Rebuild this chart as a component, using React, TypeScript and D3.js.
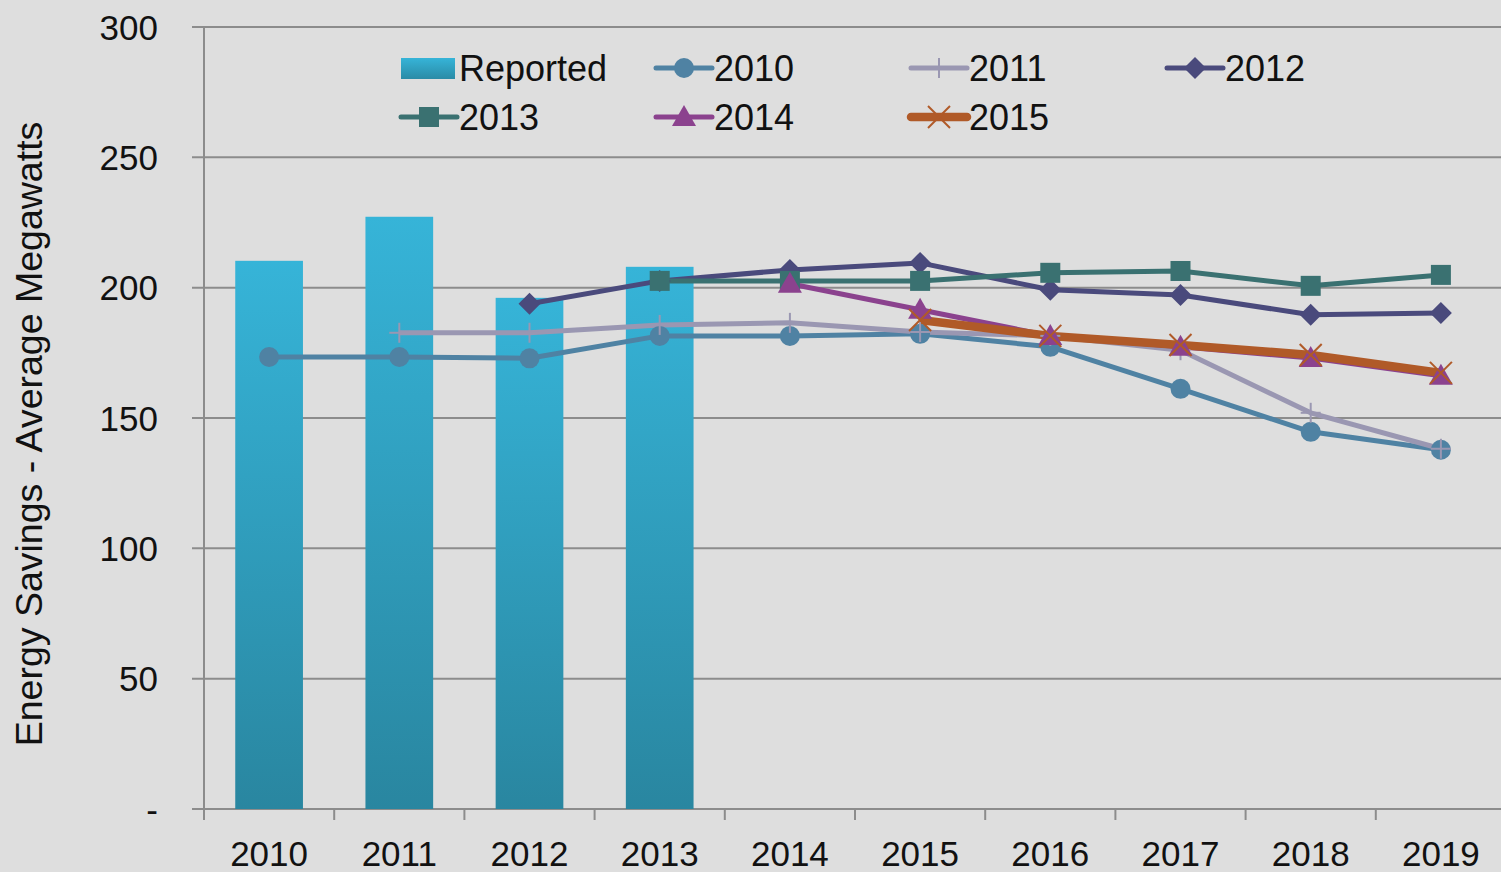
import React from "react";
import * as d3 from "d3";

const years = ["2010", "2011", "2012", "2013", "2014", "2015", "2016", "2017", "2018", "2019"];
const reported = [210.3, 227.2, 196.1, 208.0];
const s2010 = [173.4, 173.4, 172.9, 181.5, 181.5, 182.3, 177.3, 161.2, 144.7, 137.8];
const s2011 = [null, 182.7, 182.7, 185.7, 186.5, 183.0, 181.5, 176.0, 152.0, 138.2];
const s2012 = [null, null, 193.8, 202.6, 206.8, 209.5, 199.2, 197.2, 189.6, 190.3];
const s2013 = [null, null, null, 202.6, 202.6, 202.6, 205.7, 206.4, 200.7, 204.9];
const s2014 = [null, null, null, null, 201.5, 191.5, 181.5, 177.3, 173.0, 166.2];
const s2015 = [null, null, null, null, null, 187.6, 181.5, 178.0, 174.2, 167.3];
const yTicks = [0, 50, 100, 150, 200, 250, 300];

type Series = { name: string; values: (number | null)[]; color: string; marker: string; width: number };
const series: Series[] = [
  { name: "2010", values: s2010, color: "#4f82a3", marker: "circle", width: 5 },
  { name: "2011", values: s2011, color: "#9a97b2", marker: "plus", width: 5 },
  { name: "2012", values: s2012, color: "#4a4a7c", marker: "diamond", width: 5 },
  { name: "2013", values: s2013, color: "#3a7171", marker: "square", width: 5 },
  { name: "2014", values: s2014, color: "#8b428e", marker: "triangle", width: 5 },
  { name: "2015", values: s2015, color: "#b05a28", marker: "x", width: 8.5 },
];

const W = 1501, H = 872;
const left = 204, right = 1506, top = 27, bottom = 809;
const FONT = "'Liberation Sans', Arial, sans-serif";

function Marker({ type, x, y, color }: { type: string; x: number; y: number; color: string }) {
  switch (type) {
    case "circle":
      return <circle cx={x} cy={y} r={10} fill={color} />;
    case "plus":
      return (
        <g stroke={color} strokeWidth={2}>
          <line x1={x - 10} x2={x + 10} y1={y} y2={y} />
          <line x1={x} x2={x} y1={y - 10} y2={y + 10} />
        </g>
      );
    case "diamond":
      return <path d={`M${x},${y - 11}L${x + 11},${y}L${x},${y + 11}L${x - 11},${y}Z`} fill={color} />;
    case "square":
      return <rect x={x - 10} y={y - 10} width={20} height={20} fill={color} />;
    case "triangle":
      return <path d={`M${x},${y - 12}L${x + 12},${y + 9}L${x - 12},${y + 9}Z`} fill={color} />;
    case "x":
      return (
        <g stroke={color} strokeWidth={2}>
          <line x1={x - 11} x2={x + 11} y1={y - 11} y2={y + 11} />
          <line x1={x - 11} x2={x + 11} y1={y + 11} y2={y - 11} />
        </g>
      );
  }
  return null;
}

export default function App() {
  const x = d3.scaleBand<string>().domain(years).range([left, right]).paddingInner(0.48).paddingOuter(0.24);
  const xc = (i: number) => (x(years[i]) as number) + x.bandwidth() / 2;
  const step = x.step();
  const y = d3.scaleLinear().domain([0, 300]).range([bottom, top]);
  const line = d3
    .line<number | null>()
    .defined((d) => d != null)
    .x((_, i) => xc(i))
    .y((d) => y(d as number));

  const legendItems = [
    { name: "Reported", lx: 401, ly: 68, type: "bar" },
    { name: "2010", lx: 656, ly: 68, s: series[0] },
    { name: "2011", lx: 911, ly: 68, s: series[1] },
    { name: "2012", lx: 1167, ly: 68, s: series[2] },
    { name: "2013", lx: 401, ly: 117, s: series[3] },
    { name: "2014", lx: 656, ly: 117, s: series[4] },
    { name: "2015", lx: 911, ly: 117, s: series[5] },
  ];

  return (
    <svg width={W} height={H} style={{ position: "absolute", left: 0, top: 0, background: "#dedede" }} fontFamily={FONT}>
      <defs>
        <linearGradient id="barGrad" x1="0" y1="0" x2="0" y2="1">
          <stop offset="0%" stopColor="#36b4d8" />
          <stop offset="100%" stopColor="#2986a0" />
        </linearGradient>
        <linearGradient id="legGrad" x1="0" y1="0" x2="0" y2="1">
          <stop offset="0%" stopColor="#36b4d8" />
          <stop offset="100%" stopColor="#2a8ba6" />
        </linearGradient>
      </defs>
      <rect x={0} y={0} width={W} height={H} fill="#dedede" />
      {yTicks.map((t) => (
        <line key={t} x1={left - 12} x2={right} y1={y(t)} y2={y(t)} stroke="#8c8c8c" strokeWidth={2} />
      ))}
      {yTicks.map((t) => (
        <text key={t} x={158} y={y(t)} dy="0.36em" textAnchor="end" fontSize={35} fill="#111">
          {t === 0 ? "-" : t}
        </text>
      ))}
      {reported.map((v, i) => (
        <rect key={i} x={x(years[i])} y={y(v)} width={x.bandwidth()} height={bottom - y(v)} fill="url(#barGrad)" />
      ))}
      <line x1={left} x2={left} y1={top} y2={bottom} stroke="#8c8c8c" strokeWidth={2} />
      {years.map((yr, i) => (
        <line key={yr} x1={left + i * step} x2={left + i * step} y1={bottom} y2={bottom + 11} stroke="#8c8c8c" strokeWidth={2} />
      ))}
      {years.map((yr, i) => (
        <text key={yr} x={xc(i)} y={866} textAnchor="middle" fontSize={35} fill="#111">
          {yr}
        </text>
      ))}
      {series.map((s) => (
        <path key={s.name} d={line(s.values) || ""} fill="none" stroke={s.color} strokeWidth={s.width} strokeLinejoin="round" />
      ))}
      {series.map((s) => (
        <g key={s.name}>
          {s.values.map((v, i) =>
            v == null ? null : <Marker key={i} type={s.marker} x={xc(i)} y={y(v)} color={s.color} />
          )}
        </g>
      ))}
      {legendItems.map((it) => (
        <g key={it.name}>
          {it.type === "bar" ? (
            <rect x={it.lx} y={it.ly - 10} width={54} height={21} fill="url(#legGrad)" />
          ) : (
            <g>
              <line
                x1={it.lx}
                x2={it.lx + 56}
                y1={it.ly}
                y2={it.ly}
                stroke={it.s!.color}
                strokeWidth={it.s!.width}
                strokeLinecap="round"
              />
              <Marker type={it.s!.marker} x={it.lx + 28} y={it.ly} color={it.s!.color} />
            </g>
          )}
          <text x={it.lx + 58} y={it.ly} dy="0.36em" fontSize={36} fill="#111">
            {it.name}
          </text>
        </g>
      ))}
      <text transform={`translate(42,434) rotate(-90)`} textAnchor="middle" fontSize={37.5} fill="#111">
        Energy Savings - Average Megawatts
      </text>
    </svg>
  );
}
